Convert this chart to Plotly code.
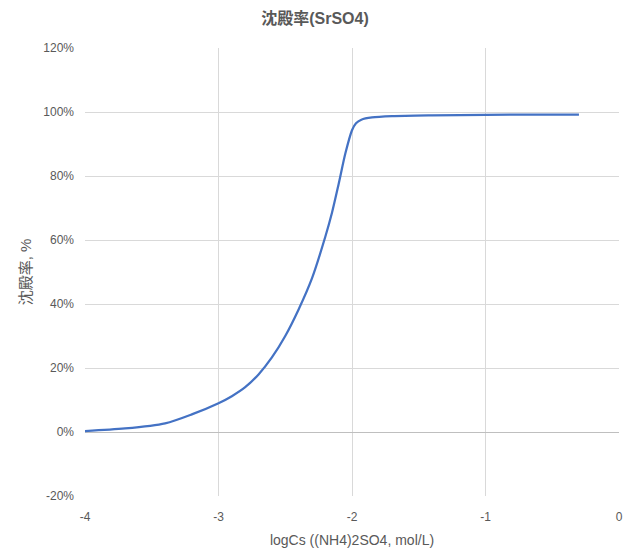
import plotly.graph_objects as go

log_cs = [-4.0, -3.7, -3.4, -3.2, -3.0, -2.9, -2.8, -2.7, -2.6, -2.5, -2.4, -2.3,
          -2.2, -2.15, -2.1, -2.05, -2.0, -1.97, -1.93, -1.85, -1.7, -1.4, -1.0,
          -0.6, -0.3]
precip_pct = [0.3, 1.1, 2.7, 5.5, 9.0, 11.2, 14.0, 18.0, 23.3, 30.0, 38.3, 48.0,
              61.0, 68.5, 77.5, 87.0, 94.3, 96.5, 97.6, 98.3, 98.7, 98.95, 99.1,
              99.2, 99.2]

x_ticks = [-4, -3, -2, -1, 0]
x_tick_text = ["-4", "-3", "-2", "-1", "0"]
y_ticks = [-20, 0, 20, 40, 60, 80, 100, 120]
y_tick_text = ["-20%", "0%", "20%", "40%", "60%", "80%", "100%", "120%"]

FONT = "Liberation Sans, Noto Sans CJK JP, sans-serif"
GRAY = "#595959"

fig = go.Figure()
fig.add_trace(go.Scatter(
    x=log_cs, y=precip_pct, mode="lines",
    line=dict(color="#4472C4", width=2.25, shape="spline", smoothing=0.8),
    hoverinfo="skip", showlegend=False,
))

fig.update_layout(
    width=630, height=556,
    margin=dict(l=85, r=11, t=48, b=60, autoexpand=False),
    paper_bgcolor="white", plot_bgcolor="white",
    font=dict(family=FONT, color=GRAY, size=12),
    title=dict(text="<b>沈殿率(SrSO4)</b>", x=0.5, xanchor="center",
               y=1 - 18 / 556, yanchor="middle",
               font=dict(size=16, color=GRAY, family=FONT)),
    xaxis=dict(
        range=[-4, 0], tickvals=x_ticks, ticktext=x_tick_text,
        showgrid=True, gridcolor="#d9d9d9",
        gridwidth=1, zeroline=False, showline=False, ticks="",
        ticklabelstandoff=12, automargin=False,
        tickfont=dict(size=12, color=GRAY),
        title=dict(text="logCs ((NH4)2SO4, mol/L)", font=dict(size=14, color=GRAY),
                   standoff=12),
    ),
    yaxis=dict(
        range=[-20, 120], tickvals=y_ticks, ticktext=y_tick_text,
        showgrid=True, gridcolor="#d9d9d9", gridwidth=1,
        zeroline=True, zerolinecolor="#bfbfbf", zerolinewidth=1,
        showline=False, ticks="", ticklabelstandoff=10, automargin=False,
        tickfont=dict(size=12, color=GRAY),
        title=dict(text="沈殿率, %", font=dict(size=15, color=GRAY), standoff=8),
    ),
)

fig.write_html("out.html", config={"displayModeBar": False},
               post_script="document.body.style.margin='0';")
